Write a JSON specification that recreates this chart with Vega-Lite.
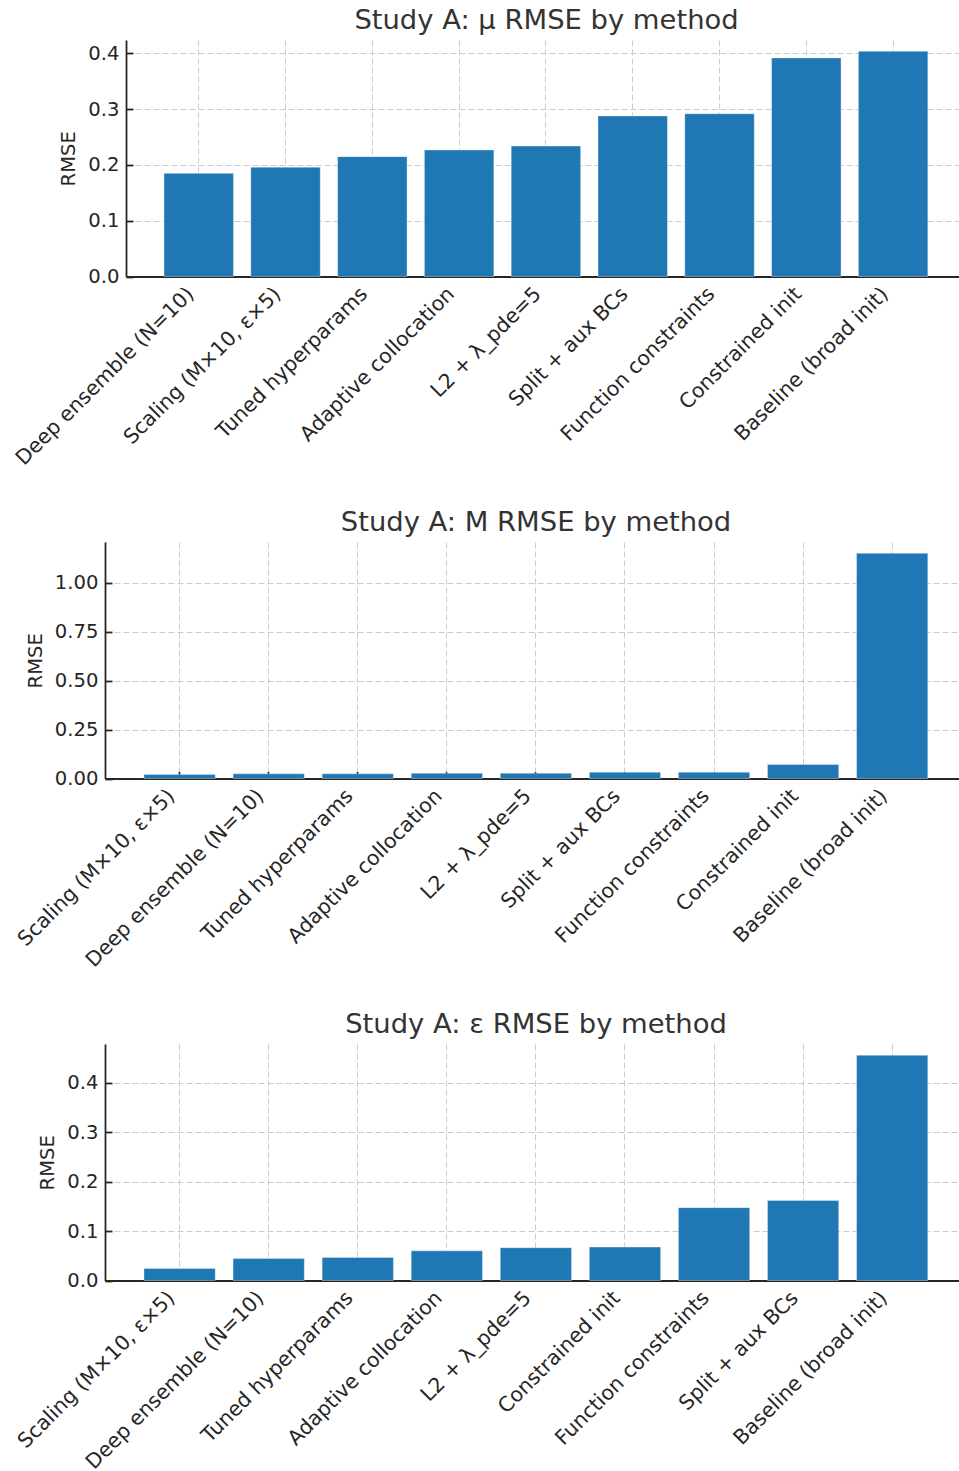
{
  "$schema": "https://vega.github.io/schema/vega-lite/v6.json",
  "background": "white",
  "padding": {"left": 12, "top": 6, "right": 0, "bottom": 0},
  "spacing": 265,
  "bounds": "flush",
  "center": true,
  "datasets": {
    "mu": [
      {"method": "Deep ensemble (N=10)", "rmse": 0.185},
      {"method": "Scaling (M×10, ε×5)", "rmse": 0.196},
      {"method": "Tuned hyperparams", "rmse": 0.215},
      {"method": "Adaptive collocation", "rmse": 0.227},
      {"method": "L2 + λ_pde=5", "rmse": 0.234},
      {"method": "Split + aux BCs", "rmse": 0.288},
      {"method": "Function constraints", "rmse": 0.292},
      {"method": "Constrained init", "rmse": 0.392},
      {"method": "Baseline (broad init)", "rmse": 0.404}
    ],
    "M": [
      {"method": "Scaling (M×10, ε×5)", "rmse": 0.021},
      {"method": "Deep ensemble (N=10)", "rmse": 0.024},
      {"method": "Tuned hyperparams", "rmse": 0.024},
      {"method": "Adaptive collocation", "rmse": 0.027},
      {"method": "L2 + λ_pde=5", "rmse": 0.027},
      {"method": "Split + aux BCs", "rmse": 0.032},
      {"method": "Function constraints", "rmse": 0.032},
      {"method": "Constrained init", "rmse": 0.072},
      {"method": "Baseline (broad init)", "rmse": 1.15}
    ],
    "eps": [
      {"method": "Scaling (M×10, ε×5)", "rmse": 0.0244},
      {"method": "Deep ensemble (N=10)", "rmse": 0.0447},
      {"method": "Tuned hyperparams", "rmse": 0.0467},
      {"method": "Adaptive collocation", "rmse": 0.060},
      {"method": "L2 + λ_pde=5", "rmse": 0.0663},
      {"method": "Constrained init", "rmse": 0.0677},
      {"method": "Function constraints", "rmse": 0.1475},
      {"method": "Split + aux BCs", "rmse": 0.162},
      {"method": "Baseline (broad init)", "rmse": 0.456}
    ]
  },
  "config": {
    "font": "DejaVu Sans",
    "view": {"stroke": null},
    "title": {
      "font": "DejaVu Sans",
      "fontSize": 27.4,
      "fontWeight": "normal",
      "color": "#333333",
      "anchor": "middle",
      "baseline": "alphabetic",
      "frame": "group",
      "offset": 6
    },
    "axis": {
      "labelFont": "DejaVu Sans",
      "labelFontSize": 19.6,
      "labelColor": "#262626",
      "labelLimit": 0,
      "titleFont": "DejaVu Sans",
      "titleFontSize": 19.6,
      "titleFontWeight": "normal",
      "titleColor": "#262626",
      "domainColor": "#262626",
      "domainWidth": 1.8,
      "tickColor": "#262626",
      "tickWidth": 1.8,
      "tickSize": -7,
      "labelPadding": 14,
      "grid": true,
      "gridColor": "#cccccc",
      "gridDash": [6, 3],
      "gridWidth": 1
    },
    "axisX": {
      "labelFontSize": 20.5,
      "labelAngle": -45,
      "labelAlign": "right",
      "labelBaseline": "top",
      "labelOffset": -15,
      "bandPosition": 0.5
    },
    "axisY": {
      "titlePadding": 9
    },
    "bar": {"color": "#1f77b4", "stroke": "#ffffff", "strokeOpacity": 0.35, "strokeWidth": 1}
  },
  "vconcat": [
    {
      "title": {"text": "Study A: μ RMSE by method", "dx": 14.5},
      "width": 812,
      "height": 236.5,
      "data": {"name": "mu"},
      "mark": "bar",
      "encoding": {
        "x": {"field": "method", "type": "nominal", "sort": null,
              "axis": {"title": null},
              "scale": {"range": [0, 833], "paddingInner": 0.2, "paddingOuter": 0.3985, "align": 0.5495}},
        "y": {"field": "rmse", "type": "quantitative",
              "scale": {"domain": [0, 0.4242], "nice": false},
              "axis": {"title": "RMSE", "values": [0, 0.1, 0.2, 0.3, 0.4], "format": ".1f"}}
      }
    },
    {
      "title": {"text": "Study A: M RMSE by method", "dx": 4},
      "width": 854,
      "height": 236.5,
      "data": {"name": "M"},
      "mark": "bar",
      "encoding": {
        "x": {"field": "method", "type": "nominal", "sort": null,
              "axis": {"title": null},
              "scale": {"paddingInner": 0.2, "paddingOuter": 0.394, "align": 0.5556}},
        "y": {"field": "rmse", "type": "quantitative",
              "scale": {"domain": [0, 1.2075], "nice": false},
              "axis": {"title": "RMSE", "values": [0, 0.25, 0.5, 0.75, 1.0], "format": ".2f"}}
      }
    },
    {
      "title": {"text": "Study A: ε RMSE by method", "dx": 4},
      "width": 854,
      "height": 236.5,
      "data": {"name": "eps"},
      "mark": "bar",
      "encoding": {
        "x": {"field": "method", "type": "nominal", "sort": null,
              "axis": {"title": null},
              "scale": {"paddingInner": 0.2, "paddingOuter": 0.394, "align": 0.5556}},
        "y": {"field": "rmse", "type": "quantitative",
              "scale": {"domain": [0, 0.4788], "nice": false},
              "axis": {"title": "RMSE", "values": [0, 0.1, 0.2, 0.3, 0.4], "format": ".1f"}}
      }
    }
  ]
}
